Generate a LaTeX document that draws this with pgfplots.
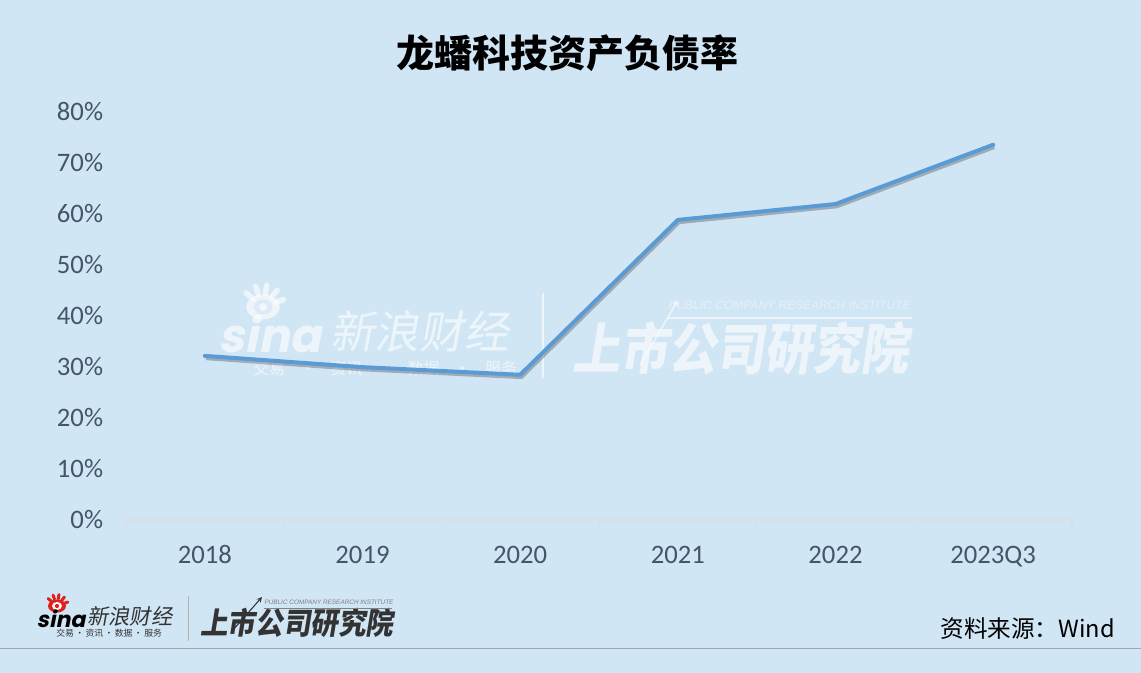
\documentclass[border=0pt]{standalone}
\usepackage{fontspec}
\usepackage{pgfplots}
\pgfplotsset{compat=1.18}
\setmainfont{Carlito}
\newfontfamily\cjk{Noto Sans CJK SC}
\newfontfamily\cjkslant[FakeSlant=0.18]{Noto Sans CJK SC}
\newfontfamily\logofont[FakeSlant=0.2]{Poppins}
\newfontfamily\smallfont[FakeSlant=0.15]{Liberation Sans}
\newcommand\fs[1]{\fontsize{#1}{#1}\selectfont}
\definecolor{bg}{HTML}{D1E6F5}
\definecolor{ticktext}{HTML}{44546A}
\definecolor{linec}{HTML}{5B9BD5}
\definecolor{baseline}{HTML}{D9DFE5}
\definecolor{logodark}{HTML}{333333}
\definecolor{sinared}{HTML}{E0201C}
\definecolor{footrule}{HTML}{A6A6A6}
% eye of the logo: centre x, y, radius, ray colour, pupil colour
\newcommand\sinaeye[5]{%
  \foreach \a in {20,50,80,110,140}
    \draw[#4,line width=#3*0.28,line cap=round] (#1,#2) ++(\a:#3*0.9) -- ++(\a:#3*0.55);
  \fill[#4] (#1,#2) ellipse[x radius=#3*1.12,y radius=#3*0.82];
  \fill[#5] (#1,#2) ellipse[x radius=#3*0.62,y radius=#3*0.5];
  \fill[#4] (#1,#2) circle[radius=#3*0.26];
}
\begin{document}
\begin{tikzpicture}[x=0.75pt,y=0.75pt]
\path[use as bounding box] (0,0) rectangle (1141,673);
\fill[bg] (0,0) rectangle (1141,673);
% title
\node[font=\cjk\bfseries\fs{28.5},text=black,inner sep=0pt] at (567.5,620) {龙蟠科技资产负债率};
% watermark
\begin{scope}[opacity=0.62]
  \sinaeye{263}{366}{15}{white}{bg}
  \node[font=\logofont\bfseries\fs{35},text=white,inner sep=0pt] at (270,339) {sina};
  \node[font=\cjkslant\fs{33.5},text=white,inner sep=0pt,anchor=west] at (330,341) {新浪财经};
  \node[font=\cjk\fs{12},text=white,inner sep=0pt] at (385,305) {交易\hspace{11pt}·\hspace{11pt}资讯\hspace{11pt}·\hspace{11pt}数据\hspace{11pt}·\hspace{11pt}服务};
  \draw[white,line width=1pt] (543,295) -- (543,380);
  \node[font=\cjkslant\bfseries\fs{36},text=white,inner sep=0pt,anchor=west,yscale=1.15] at (572,325) {上市公司研究院};
  \draw[white,line width=1.2pt,-stealth] (640,308) -- (678,373);
  \draw[white,line width=1pt] (668,355) -- (912,355);
\end{scope}
\node[font=\smallfont\fs{9},text=white,opacity=0.4,inner sep=0pt,anchor=west] at (668,368) {PUBLIC COMPANY RESEARCH INSTITUTE};
% footer logos
\sinaeye{57}{67}{8}{sinared}{white}
\node[font=\logofont\bfseries\fs{16.5},text=black,inner sep=0pt] at (61,54) {sina};
\node[font=\cjkslant\fs{16},text=logodark,inner sep=0pt,anchor=west] at (87,57) {新浪财经};
\node[font=\cjk\fs{6.6},text=logodark,inner sep=0pt,anchor=west] at (56,40) {交易\,·\,资讯\,·\,数据\,·\,服务};
\draw[gray!60,line width=0.6pt] (188,32) -- (188,77);
\node[font=\cjkslant\bfseries\fs{20.7},text=logodark,inner sep=0pt,anchor=west,yscale=1.1] at (200,50) {上市公司研究院};
\node[font=\smallfont\fs{4.8},text=gray,inner sep=0pt,anchor=west] at (264,71) {PUBLIC COMPANY RESEARCH INSTITUTE};
\draw[logodark,line width=0.8pt,-stealth] (233,43) -- (262,76);
\draw[gray,line width=0.5pt] (264,65) -- (392,65);
% source
\node[font=\cjk\fs{17.7},text=black,inner sep=0pt,anchor=east] at (1115,44) {资料来源：Wind};
% footer rule
\draw[footrule,line width=0.75pt] (0,24.5) -- (1141,24.5);
\begin{axis}[
  at={(94.5pt,114.75pt)},anchor=south west,
  scale only axis,width=709.5pt,height=306.75pt,
  xmin=-0.5,xmax=5.5,ymin=0,ymax=80,
  axis y line=none,
  axis x line*=bottom,
  axis line style={draw=baseline,line width=0.9pt,-},
  xtick={0,1,2,3,4,5},
  xticklabels={2018,2019,2020,2021,2022,2023Q3},
  minor xtick={-0.5,0.5,1.5,2.5,3.5,4.5,5.5},
  tick align=outside,
  major tick length=0pt,
  minor tick length=6pt,
  every minor tick/.style={draw=baseline,line width=0.9pt},
  xticklabel style={font=\fs{20},text=ticktext,yshift=-16pt,text height=13pt,text depth=0pt},
  clip=false,
  /pgf/number format/assume math mode=true,
]
\addplot[draw=black!60,opacity=0.45,line width=2.4pt,line join=round,transform canvas={xshift=1pt,yshift=-2pt}]
  coordinates {(0,32.1) (1,29.9) (2,28.4) (3,58.7) (4,61.8) (5,73.4)};
\addplot[draw=linec,line width=3pt,line join=round,line cap=round]
  coordinates {(0,32.1) (1,29.9) (2,28.4) (3,58.7) (4,61.8) (5,73.4)};
% value axis labels
\pgfplotsinvokeforeach{0,10,...,80}{
  \node[font=\fs{20},text=ticktext,inner sep=0pt,anchor=east] at (axis cs:-0.5,#1) [xshift=-17pt] {#1\%};
}
\end{axis}
\end{tikzpicture}
\end{document}
